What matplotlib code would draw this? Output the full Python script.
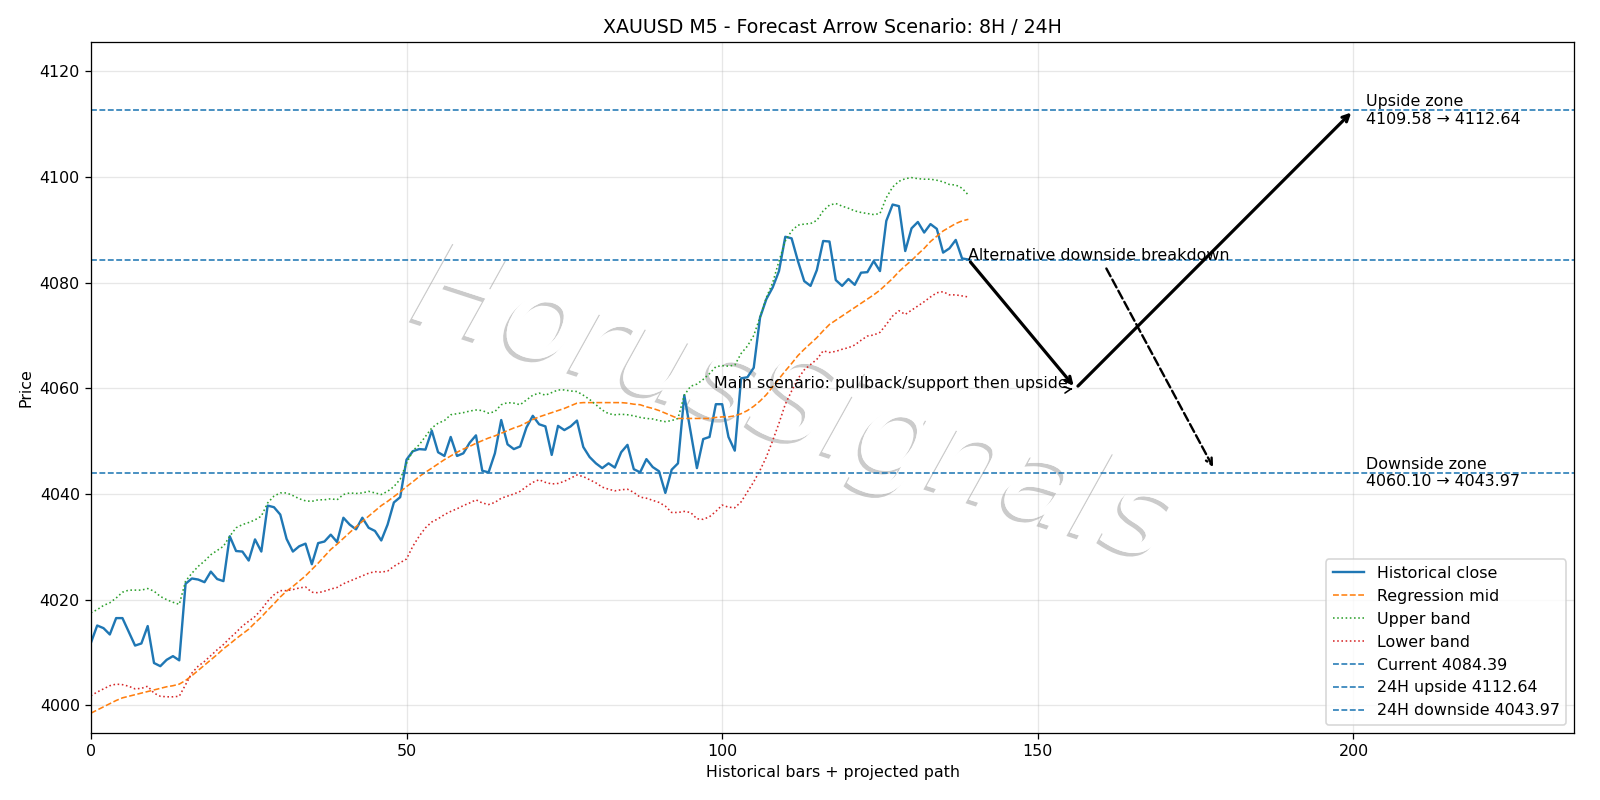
import matplotlib
matplotlib.use("Agg")
import matplotlib.pyplot as plt
import matplotlib.patheffects as pe
import numpy as np

# historical data (140 bars of M5)
close = [4011.8, 4015.1, 4014.6, 4013.4, 4016.5, 4016.5, 4013.9, 4011.3, 4011.7, 4015.0,
         4008.0, 4007.4, 4008.6, 4009.3, 4008.5, 4023.0, 4024.0, 4023.8, 4023.3, 4025.3,
         4023.9, 4023.5, 4032.0, 4029.2, 4029.1, 4027.4, 4031.4, 4029.1, 4037.8, 4037.5,
         4036.1, 4031.5, 4029.1, 4030.1, 4030.6, 4026.7, 4030.7, 4031.0, 4032.3, 4030.9,
         4035.5, 4034.2, 4033.3, 4035.5, 4033.6, 4033.0, 4031.2, 4034.2, 4038.4, 4039.4,
         4046.5, 4048.1, 4048.5, 4048.4, 4052.0, 4047.9, 4047.2, 4050.8, 4047.2, 4047.7,
         4049.7, 4051.1, 4044.4, 4044.1, 4047.7, 4054.0, 4049.4, 4048.5, 4049.0, 4052.6,
         4054.8, 4053.2, 4052.8, 4047.4, 4052.9, 4052.1, 4052.8, 4053.9, 4048.9, 4047.0,
         4045.8, 4044.9, 4045.8, 4045.0, 4047.9, 4049.3, 4044.7, 4044.1, 4046.6, 4045.1,
         4044.3, 4040.2, 4044.6, 4045.8, 4058.7, 4051.8, 4044.9, 4050.4, 4050.8, 4057.0,
         4057.0, 4050.8, 4048.2, 4061.9, 4062.1, 4063.9, 4073.4, 4076.9, 4079.1, 4082.2,
         4088.7, 4088.4, 4084.1, 4080.3, 4079.4, 4082.4, 4087.9, 4087.8, 4080.5, 4079.4,
         4080.7, 4079.6, 4081.9, 4082.0, 4084.1, 4082.2, 4091.7, 4094.8, 4094.5, 4086.0,
         4090.3, 4091.5, 4089.5, 4091.1, 4090.2, 4085.7, 4086.5, 4088.1, 4084.6, 4084.39]

reg_mid = [3998.5, 3999.1, 3999.7, 4000.3, 4000.9, 4001.4, 4001.7, 4002.0, 4002.3, 4002.6,
           4002.9, 4003.2, 4003.5, 4003.7, 4004.0, 4004.7, 4005.6, 4006.6, 4007.6, 4008.6,
           4009.6, 4010.7, 4011.6, 4012.6, 4013.5, 4014.4, 4015.6, 4016.7, 4018.0, 4019.2,
           4020.5, 4021.6, 4022.5, 4023.5, 4024.5, 4025.7, 4026.9, 4028.2, 4029.5, 4030.5,
           4031.6, 4032.7, 4033.8, 4034.8, 4035.8, 4036.8, 4037.8, 4038.6, 4039.5, 4040.4,
           4041.4, 4042.3, 4043.3, 4044.1, 4044.9, 4045.7, 4046.5, 4047.2, 4047.9, 4048.5,
           4049.0, 4049.6, 4050.1, 4050.6, 4051.0, 4051.5, 4052.0, 4052.5, 4052.9, 4053.5,
           4054.1, 4054.6, 4055.0, 4055.4, 4055.8, 4056.2, 4056.7, 4057.2, 4057.3, 4057.3,
           4057.3, 4057.3, 4057.3, 4057.3, 4057.3, 4057.2, 4057.0, 4056.9, 4056.5, 4056.2,
           4055.8, 4055.3, 4054.8, 4054.3, 4054.3, 4054.3, 4054.3, 4054.3, 4054.3, 4054.5,
           4054.6, 4054.6, 4054.8, 4055.2, 4055.8, 4056.6, 4057.6, 4058.8, 4060.3, 4061.8,
           4063.3, 4064.7, 4066.2, 4067.4, 4068.5, 4069.6, 4070.9, 4072.1, 4072.9, 4073.7,
           4074.5, 4075.3, 4076.1, 4076.9, 4077.7, 4078.6, 4079.7, 4080.8, 4082.1, 4083.2,
           4084.2, 4085.4, 4086.5, 4087.8, 4088.8, 4089.8, 4090.5, 4091.2, 4091.7, 4092.0]

upper = [4017.5, 4018.1, 4018.9, 4019.4, 4020.3, 4021.4, 4021.8, 4021.8, 4021.8, 4022.1,
         4021.6, 4020.6, 4020.0, 4019.5, 4019.1, 4023.5, 4025.0, 4026.3, 4027.3, 4028.5,
         4029.3, 4030.1, 4032.0, 4033.6, 4034.2, 4034.6, 4035.1, 4035.8, 4038.3, 4039.6,
         4040.2, 4040.2, 4039.7, 4039.1, 4038.7, 4038.6, 4038.9, 4038.9, 4039.1, 4038.9,
         4039.9, 4040.2, 4040.1, 4040.2, 4040.5, 4040.2, 4039.9, 4040.5, 4041.4, 4042.8,
         4045.8, 4048.2, 4049.3, 4050.9, 4052.5, 4053.4, 4053.9, 4055.0, 4055.2, 4055.4,
         4055.7, 4055.9, 4055.8, 4055.3, 4055.6, 4056.9, 4057.3, 4057.2, 4056.9, 4057.8,
         4058.7, 4059.1, 4058.7, 4059.2, 4059.7, 4059.7, 4059.5, 4059.4, 4058.7, 4057.9,
         4056.9, 4055.9, 4055.2, 4055.0, 4055.1, 4055.0, 4054.8, 4054.5, 4054.3, 4054.2,
         4053.9, 4053.7, 4053.9, 4054.3, 4058.7, 4060.4, 4060.8, 4061.7, 4062.8, 4064.1,
         4064.3, 4064.2, 4064.4, 4066.6, 4068.0, 4070.0, 4073.5, 4077.2, 4080.0, 4084.1,
         4087.9, 4089.8, 4090.9, 4091.1, 4091.2, 4091.8, 4093.6, 4094.7, 4095.0, 4094.5,
         4094.1, 4093.6, 4093.3, 4093.1, 4092.9, 4093.1, 4096.1, 4098.1, 4099.2, 4099.7,
         4099.9, 4099.7, 4099.6, 4099.6, 4099.4, 4099.1, 4098.6, 4098.5, 4097.9, 4096.6]

lower = [4001.8, 4002.5, 4003.1, 4003.7, 4004.0, 4003.9, 4003.6, 4003.1, 4003.2, 4003.6,
         4002.3, 4001.7, 4001.6, 4001.6, 4001.7, 4003.9, 4006.1, 4007.4, 4008.3, 4009.4,
         4010.5, 4011.5, 4012.7, 4013.8, 4015.0, 4015.9, 4016.8, 4018.1, 4019.7, 4020.9,
         4021.7, 4021.7, 4021.9, 4022.2, 4022.4, 4021.4, 4021.3, 4021.6, 4022.0, 4022.3,
         4023.0, 4023.5, 4024.0, 4024.5, 4025.0, 4025.3, 4025.2, 4025.4, 4026.3, 4027.0,
         4027.7, 4030.1, 4032.0, 4033.6, 4034.7, 4035.3, 4036.1, 4036.7, 4037.2, 4037.8,
         4038.3, 4038.9, 4038.3, 4038.0, 4038.4, 4039.2, 4039.6, 4040.0, 4040.5, 4041.4,
         4042.2, 4042.7, 4042.2, 4041.9, 4042.0, 4042.4, 4043.0, 4043.6, 4043.3, 4042.7,
         4042.1, 4041.3, 4040.9, 4040.6, 4040.8, 4040.9, 4040.3, 4039.4, 4039.2, 4038.8,
         4038.4, 4037.7, 4036.5, 4036.5, 4036.7, 4036.5, 4035.3, 4035.2, 4035.7, 4036.7,
         4037.9, 4037.5, 4037.4, 4038.5, 4040.4, 4042.3, 4044.5, 4047.0, 4050.1, 4053.4,
         4057.0, 4059.5, 4061.8, 4063.5, 4064.5, 4065.5, 4067.1, 4066.8, 4067.0, 4067.4,
         4067.7, 4068.2, 4069.1, 4069.9, 4070.1, 4070.6, 4072.1, 4073.7, 4074.7, 4074.0,
         4074.8, 4075.6, 4076.4, 4077.3, 4078.1, 4078.3, 4077.7, 4077.7, 4077.5, 4077.3]

current = 4084.39
up_zone = (4109.58, 4112.64)
down_zone = (4060.10, 4043.97)
support = 4060.0
last_bar = len(close) - 1
pivot_bar = 156
up_bar = 200
down_bar = 178

x = np.arange(len(close))

fig, ax = plt.subplots(figsize=(14, 7), dpi=1600 / 14)
fig.subplots_adjust(left=0.0568, right=0.984, top=0.947, bottom=0.0841)

ax.plot(x, close, color="C0", lw=1.5, label="Historical close")
ax.plot(x, reg_mid, color="C1", lw=1, ls="--", label="Regression mid")
ax.plot(x, upper, color="C2", lw=1, ls=":", label="Upper band")
ax.plot(x, lower, color="C3", lw=1, ls=":", label="Lower band")

ax.axhline(current, color="C0", lw=1, ls="--", label=f"Current {current:.2f}")
ax.axhline(up_zone[1], color="C0", lw=1, ls="--", label=f"24H upside {up_zone[1]:.2f}")
ax.axhline(down_zone[1], color="C0", lw=1, ls="--", label=f"24H downside {down_zone[1]:.2f}")

# scenario arrows
ax.annotate("", xy=(pivot_bar, support), xytext=(last_bar, current),
            arrowprops=dict(arrowstyle="->", lw=2, color="black"))
ax.annotate("", xy=(up_bar, up_zone[1]), xytext=(pivot_bar, support),
            arrowprops=dict(arrowstyle="->", lw=2, color="black"))
ax.text(pivot_bar - 1.3, support, "Main scenario: pullback/support then upside",
        ha="right", va="baseline", fontsize=10)
ax.annotate("", xy=(pivot_bar, support), xytext=(pivot_bar - 1.2, support - 0.2),
            arrowprops=dict(arrowstyle="->", lw=1, color="black"))
ax.annotate("Alternative downside breakdown", xy=(down_bar, down_zone[1] + 0.6),
            xytext=(last_bar, current), ha="left", va="baseline", fontsize=10,
            arrowprops=dict(arrowstyle="->", lw=1.5, ls="--", color="black"))

ax.text(202, up_zone[1], f"Upside zone\n{up_zone[0]:.2f} \u2192 {up_zone[1]:.2f}",
        ha="left", va="center", fontsize=10)
ax.text(202, down_zone[1], f"Downside zone\n{down_zone[0]:.2f} \u2192 {down_zone[1]:.2f}",
        ha="left", va="center", fontsize=10)

# watermark
ax.text(0.496, 0.49, "HorusSignals", transform=fig.transFigure, fontsize=76,
        style="italic", color="white", rotation=-18, ha="center", va="center",
        zorder=0,
        path_effects=[pe.withSimplePatchShadow(offset=(-2.2, -2.2), shadow_rgbFace=(0.55, 0.55, 0.55), alpha=0.45),
                      pe.Normal()])

ax.set_xlim(0, 235)
ax.set_ylim(3994.8, 4125.5)
ax.grid(True, alpha=0.3)
ax.set_title("XAUUSD M5 - Forecast Arrow Scenario: 8H / 24H")
ax.set_xlabel("Historical bars + projected path")
ax.set_ylabel("Price")
ax.legend(loc="lower right")

fig.savefig("out.png", dpi=1600 / 14)
